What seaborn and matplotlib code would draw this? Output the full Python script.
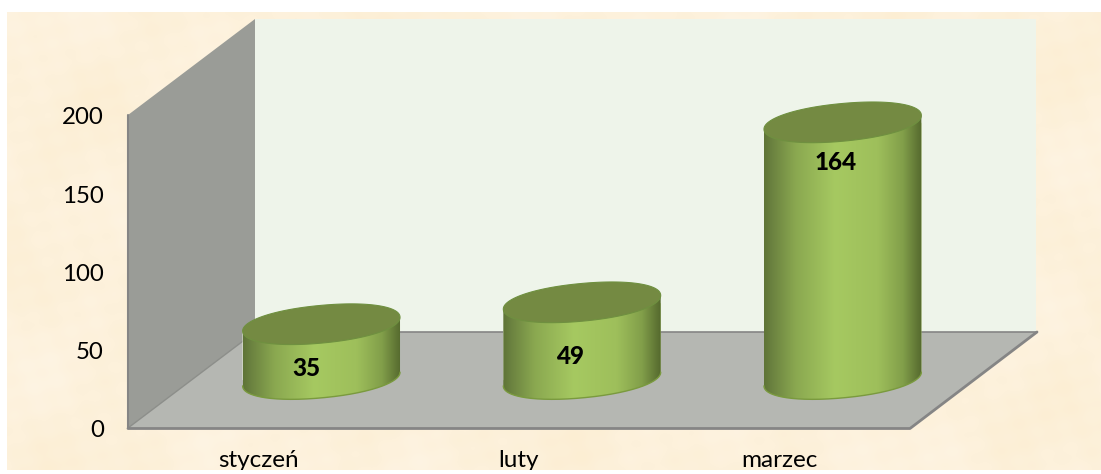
import numpy as np
import pandas as pd
import matplotlib
matplotlib.use("Agg")
import matplotlib.pyplot as plt
import seaborn as sns
from matplotlib.colors import LinearSegmentedColormap
from matplotlib.patches import Polygon, Rectangle
from matplotlib.transforms import ScaledTranslation

months = ["styczeń", "luty", "marzec"]
values = [35, 49, 164]
y_ticks = [0, 50, 100, 150, 200]

# przesuniecie etykiet wartosci wzgledem srodka gornej podstawy (w pikselach)
label_dx = [-15, -12, -7]
label_dy = [-44, -54, -40]

W, H = 1101, 474
PX_X = 782 / 3      # pikseli na kategorie
PX_Y = 313 / 200    # pikseli na jednostke osi y
A, B, TILT = 79.0, 18.8, np.radians(5.4)

sns.set_theme(style="white")
plt.rcParams["font.family"] = ["Lato", "DejaVu Sans"]


def axes_box(left, top, right, bottom):
    return [left / W, 1 - bottom / H, (right - left) / W, (bottom - top) / H]


def ellipse(cx, cy, t):
    # konce elipsy troche bardziej zaokraglone
    c = np.sign(np.cos(t)) * np.abs(np.cos(t)) ** 0.95
    s = np.sign(np.sin(t)) * np.abs(np.sin(t)) ** 0.95
    ex = A * c * np.cos(TILT) - B * s * np.sin(TILT)
    ey = A * c * np.sin(TILT) + B * s * np.cos(TILT)
    return cx + ex / PX_X, cy + ey / PX_Y


fig = plt.figure(figsize=(W / 100, H / 100), dpi=100, facecolor="white")

# tlo i sciany wykresu
bg = fig.add_axes([0, 0, 1, 1], zorder=0)
bg.axis("off")

xx, yy = np.meshgrid(np.arange(7, 1101), np.arange(12, 471))
mottle = (np.sin(xx / 37 + yy / 53) + np.sin(xx / 91 - yy / 29 + 1.3)
          + np.sin(xx / 17 + 2.1) * np.sin(yy / 23 + 0.7)
          + np.sin(xx / 7.3 + yy / 11.1) * np.sin(xx / 13.7 - yy / 5.9 + 2) * 0.8)
bg_cmap = LinearSegmentedColormap.from_list("bg", ["#FCEED3", "#FDF1DB", "#FEF4E3"])
bg.imshow(mottle, cmap=bg_cmap, extent=(7, 1101, 471, 12), aspect="auto", zorder=0)
bg.set_xlim(0, W)
bg.set_ylim(H, 0)

bg.add_patch(Polygon([(255, 19), (1036, 19), (1036, 332), (255, 332)], fc="#EEF4EA", ec="none", zorder=1))
bg.add_patch(Polygon([(128, 115), (255, 19), (255, 332), (128, 428)], fc="#9A9C97", ec="none", zorder=1))
bg.add_patch(Polygon([(128, 428), (255, 332), (1037, 332), (910, 428)], fc="#B5B7B2", ec="none", zorder=2))
bg.plot([128, 255], [428, 332], color="#8C8E8A", lw=1, zorder=3)
bg.plot([255, 1037], [332, 332], color="#858585", lw=1.2, zorder=3)
bg.plot([128, 910, 1037], [428.5, 428.5, 332], color="#858585", lw=2, zorder=3)
bg.plot([128, 128], [115, 428], color="#858585", lw=1.5, zorder=3)

# osie z opisami
ax = fig.add_axes(axes_box(128, 115, 910, 428), zorder=1)
ax.patch.set_alpha(0)
ax.set_xlim(-0.5, 2.5)
ax.set_ylim(0, 200)
ax.set_yticks(y_ticks)
ax.set_xticks(range(len(months)), months)
ax.tick_params(axis="y", length=0, pad=17.5, labelsize=17.3, labelcolor="black")
ax.tick_params(axis="x", length=0, pad=15.5, labelsize=17.5, labelcolor="black")
sns.despine(ax=ax, left=True, bottom=True)
for label in ax.get_yticklabels():
    label.set_transform(label.get_transform() + ScaledTranslation(0, -0.8 / 100, fig.dpi_scale_trans))

# cylindry: podstawa przesunieta w glab wykresu
bars_ax = fig.add_axes(axes_box(191, 66, 973, 379 + 20 * PX_Y), zorder=2)
bars_ax.patch.set_alpha(0)
df = pd.DataFrame({"miesiac": months, "wartosc": values})
sns.barplot(data=df, x="miesiac", y="wartosc", order=months, color="#A5C85F",
            saturation=1, width=2 * A / PX_X, ax=bars_ax)
bars_ax.set_xlim(-0.5, 2.5)
bars_ax.set_ylim(-20, 200)
bars_ax.axis("off")

body_cmap = LinearSegmentedColormap.from_list(
    "body",
    [(0, "#5F7437"), (0.05, "#6B8240"), (0.2, "#8AA850"), (0.45, "#A6C961"),
     (0.72, "#9EBF5B"), (0.88, "#829F4A"), (1, "#55692E")],
)
gradient = np.linspace(0, 1, 256).reshape(1, -1)
t = np.linspace(0, 2 * np.pi, 721)

for bar, value, dx, dy in zip(bars_ax.patches, values, label_dx, label_dy):
    cx = bar.get_x() + bar.get_width() / 2
    top_x, top_y = ellipse(cx, value, t)
    base_x, base_y = ellipse(cx, 0, t)
    i_left = np.argmin(base_x)
    i_right = np.argmax(base_x)
    lower = np.arange(i_left, i_right + 1) if i_left < i_right else np.r_[i_left:721, 0:i_right + 1]
    outline = np.r_[np.c_[base_x[lower], base_y[lower]],
                    [[top_x[i_right], top_y[i_right]]],
                    [[top_x[i_left], top_y[i_left]]]]
    body = Polygon(outline, transform=bars_ax.transData, fc="none", ec="none")
    bars_ax.add_patch(body)
    bar.set_clip_path(body)
    img = bars_ax.imshow(gradient, cmap=body_cmap, aspect="auto", zorder=3,
                         extent=(base_x.min(), base_x.max(), -20, value + 20))
    img.set_clip_path(body)
    bars_ax.plot(base_x[lower], base_y[lower], color="#7A9A3E", lw=1, zorder=4)
    bars_ax.fill(top_x, top_y, fc="#748A42", ec="#6F9040", lw=0.8, zorder=5)
    bars_ax.annotate(str(value), (cx, value), xytext=(dx, dy), textcoords="offset pixels",
                     ha="center", va="center", fontsize=17.5, fontweight=900,
                     color="black", zorder=6)

bars_ax.set_xlim(-0.5, 2.5)
bars_ax.set_ylim(-20, 200)

# bialy pas przycina opisy osi przy dolnej krawedzi
fig.add_artist(Rectangle((0, 0), 1, 4 / H, transform=fig.transFigure, fc="white", ec="none", zorder=10))

fig.savefig("out.png", dpi=100)
